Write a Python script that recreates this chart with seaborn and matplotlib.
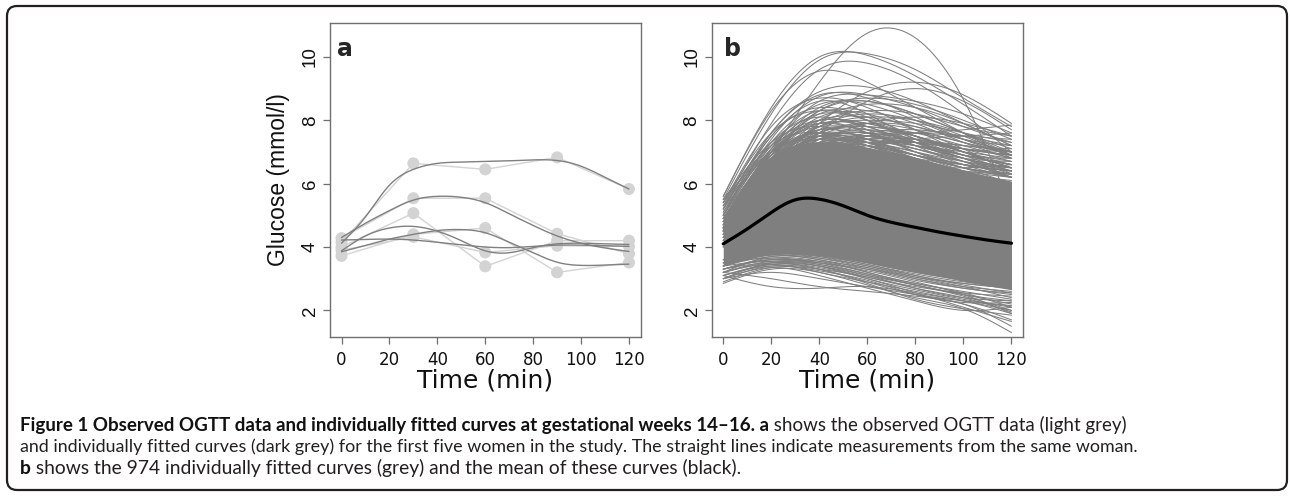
import numpy as np
import pandas as pd
import matplotlib
matplotlib.use("Agg")
import matplotlib.pyplot as plt
import matplotlib.patches as mpatches
import seaborn as sns

# ---------------- data ----------------
obs_times = [0, 30, 60, 90, 120]
obs_w1 = [4.15, 6.64, 6.45, 6.83, 5.83]
obs_w2 = [4.28, 5.54, 5.54, 4.42, 3.79]
obs_w3 = [4.00, 5.07, 3.39, 4.20, 4.20]
obs_w4 = [3.72, 4.40, 4.60, 3.20, 3.51]
obs_w5 = [3.90, 4.32, 3.83, 4.04, 4.02]

fit_times = [0, 10, 20, 30, 40, 50, 60, 70, 80, 90, 100, 110, 120]
fit_w1 = [4.12, 4.95, 5.95, 6.45, 6.64, 6.68, 6.70, 6.72, 6.75, 6.73, 6.55, 6.20, 5.83]
fit_w2 = [4.30, 4.75, 5.15, 5.48, 5.60, 5.57, 5.40, 5.05, 4.68, 4.35, 4.12, 3.97, 3.86]
fit_w3 = [3.88, 4.35, 4.60, 4.65, 4.50, 4.20, 3.88, 3.82, 3.98, 4.10, 4.12, 4.10, 4.08]
fit_w4 = [3.85, 4.05, 4.25, 4.40, 4.52, 4.55, 4.45, 4.15, 3.82, 3.52, 3.42, 3.43, 3.46]
fit_w5 = [4.22, 4.24, 4.25, 4.22, 4.15, 4.07, 4.00, 3.98, 4.02, 4.06, 4.06, 4.04, 4.02]

# panel b: mean curve
mean_curve = [4.10, 4.57, 5.09, 5.49, 5.51, 5.30, 5.00, 4.78, 4.62, 4.47, 4.34, 4.22, 4.12]
# panel b: dense core of the 974 curves (solid region)
core_low = [3.40, 3.62, 3.75, 3.78, 3.72, 3.62, 3.50, 3.36, 3.22, 3.08, 2.92, 2.78, 2.65]
core_high = [4.90, 6.05, 6.85, 7.22, 7.32, 7.28, 7.15, 7.00, 6.82, 6.62, 6.42, 6.25, 6.08]
# panel b: individually visible curves at the fringes (values at 0,20,...,120 min)
knot_times = [0, 20, 40, 60, 80, 100, 120]
upper_curves = [
    [4.8, 7.0, 9.2, 10.75, 10.6, 8.66, 5.2],
    [5.6, 8.4, 10.0, 10.05, 9.4, 8.5, 7.5],
    [5.5, 8.2, 9.9, 10.1, 9.6, 8.7, 7.8],
    [5.3, 7.9, 9.6, 9.8, 9.2, 8.2, 7.0],
    [5.6, 8.3, 9.55, 9.2, 8.4, 7.6, 6.8],
    [5.2, 7.6, 8.9, 9.05, 8.6, 7.9, 7.2],
    [4.6, 6.4, 7.9, 8.9, 9.2, 8.8, 7.9],
    [4.5, 6.2, 7.6, 8.6, 9.0, 8.6, 7.7],
    [5.0, 7.4, 8.75, 8.8, 8.4, 7.8, 7.3],
    [5.2, 7.6, 8.8, 8.7, 8.1, 7.4, 6.9],
    [4.9, 7.1, 8.6, 8.8, 8.6, 8.2, 7.6],
    [5.4, 7.8, 8.7, 8.4, 7.7, 7.0, 6.5],
    [4.7, 6.8, 8.3, 8.7, 8.5, 8.0, 7.4],
    [5.1, 7.3, 8.5, 8.5, 8.0, 7.4, 7.0],
    [4.9, 7.0, 8.4, 8.6, 8.2, 7.6, 6.9],
    [4.6, 6.6, 8.0, 8.5, 8.4, 7.9, 7.2],
    [5.3, 7.5, 8.6, 8.2, 7.4, 6.8, 6.5],
    [4.8, 6.9, 8.2, 8.3, 7.9, 7.3, 6.8],
    [4.5, 6.5, 7.9, 8.3, 8.2, 7.8, 7.5],
    [5.0, 7.2, 8.3, 8.0, 7.4, 6.9, 6.6],
    [4.7, 6.8, 8.1, 8.2, 7.7, 7.1, 6.3],
    [4.9, 7.0, 8.0, 7.8, 7.3, 6.8, 6.2],
    [4.4, 6.3, 7.7, 8.1, 8.0, 7.6, 7.1],
    [5.2, 7.3, 8.1, 7.7, 7.0, 6.5, 6.0],
    [4.6, 6.6, 7.8, 7.9, 7.5, 7.1, 6.7],
    [4.8, 6.8, 7.9, 7.6, 7.1, 6.7, 6.4],
    [4.5, 6.4, 7.6, 7.8, 7.6, 7.2, 6.8],
    [4.7, 6.7, 7.7, 7.4, 6.9, 6.4, 5.9],
    [4.3, 6.1, 7.4, 7.7, 7.5, 7.0, 6.5],
    [4.9, 6.9, 7.6, 7.3, 6.8, 6.3, 5.8],
    [4.6, 6.5, 7.5, 7.5, 7.2, 6.9, 6.6],
    [4.4, 6.2, 7.3, 7.4, 7.1, 6.7, 6.2],
    [5.0, 6.9, 7.5, 7.1, 6.6, 6.2, 5.9],
    [4.5, 6.3, 7.2, 7.3, 7.0, 6.6, 6.4],
    [4.8, 6.6, 7.4, 7.2, 6.9, 6.6, 6.3],
    [4.2, 5.7, 6.8, 7.4, 7.6, 7.7, 7.85],
    [4.0, 5.4, 6.5, 7.1, 7.4, 7.5, 7.6],
    [4.3, 5.9, 7.0, 7.5, 7.6, 7.5, 7.4],
    [5.4, 7.2, 7.6, 7.2, 6.7, 6.3, 6.1],
    [5.5, 7.0, 7.4, 7.0, 6.6, 6.5, 6.6],
    [4.6, 6.9, 7.9, 7.8, 7.2, 6.6, 6.2],
    [4.3, 6.4, 7.6, 7.9, 7.7, 7.3, 7.0],
    [4.8, 7.1, 8.2, 8.0, 7.5, 7.0, 6.7],
    [4.4, 6.5, 7.8, 8.2, 8.0, 7.5, 6.9],
    [4.7, 6.9, 8.0, 8.1, 7.8, 7.4, 7.2],
    [4.2, 6.0, 7.3, 7.9, 8.1, 7.9, 7.5],
    [4.5, 6.6, 7.7, 7.7, 7.3, 6.9, 6.8],
    [5.0, 7.1, 7.9, 7.6, 7.0, 6.6, 6.4],
    [4.6, 6.7, 7.8, 8.0, 7.9, 7.6, 7.3],
    [4.4, 6.3, 7.5, 7.9, 7.8, 7.4, 7.0],
    [4.9, 7.0, 7.8, 7.7, 7.4, 7.0, 6.6],
    [4.3, 6.2, 7.4, 7.6, 7.4, 7.1, 6.9],
    [4.7, 6.8, 7.7, 7.6, 7.2, 6.8, 6.5],
    [4.1, 5.9, 7.1, 7.6, 7.7, 7.5, 7.2],
    [4.5, 6.5, 7.6, 7.8, 7.5, 7.0, 6.5],
    [5.1, 7.2, 8.0, 7.9, 7.5, 7.1, 6.9],
    [4.6, 6.7, 7.5, 7.4, 7.1, 6.8, 6.7],
    [4.2, 6.1, 7.2, 7.5, 7.3, 6.9, 6.6],
    [4.8, 6.8, 7.6, 7.5, 7.3, 7.1, 7.0],
    [4.4, 6.4, 7.4, 7.5, 7.2, 6.8, 6.4],
    [4.0, 5.8, 7.0, 7.5, 7.6, 7.3, 6.9],
    [4.9, 6.8, 7.5, 7.3, 6.9, 6.5, 6.3],
    [4.5, 6.4, 7.3, 7.3, 7.0, 6.7, 6.5],
    [4.3, 6.0, 7.0, 7.3, 7.2, 7.0, 6.8],
    [4.7, 6.6, 7.4, 7.3, 6.9, 6.5, 6.2],
    [4.1, 5.8, 6.9, 7.3, 7.3, 7.1, 6.9],
    [5.2, 7.0, 7.6, 7.3, 6.8, 6.4, 6.2],
    [4.6, 6.5, 7.5, 7.6, 7.3, 6.9, 6.6],
    [4.2, 5.9, 7.0, 7.4, 7.4, 7.2, 7.1],
    [4.8, 6.6, 7.3, 7.1, 6.7, 6.4, 6.3],
    [5.3, 7.0, 7.5, 7.2, 6.8, 6.6, 6.5],
    [4.4, 6.2, 7.2, 7.4, 7.2, 6.8, 6.3],
    [4.0, 5.6, 6.7, 7.2, 7.3, 7.2, 7.0],
    [4.6, 6.4, 7.2, 7.2, 6.9, 6.6, 6.4],
    [4.3, 6.1, 7.1, 7.2, 6.9, 6.5, 6.2],
    [4.9, 6.7, 7.4, 7.2, 6.8, 6.4, 6.0],
    [5.5, 7.3, 7.8, 7.4, 6.9, 6.5, 6.3],
    [5.4, 7.6, 8.3, 8.0, 7.3, 6.7, 6.2],
    [5.0, 7.5, 8.4, 8.1, 7.5, 6.9, 6.4],
    [4.5, 6.9, 8.3, 8.6, 8.2, 7.6, 7.0],
]
lower_curves = [
    [3.1, 2.75, 2.70, 2.75, 2.55, 2.30, 1.90],
    [3.2, 3.00, 2.75, 2.60, 2.45, 2.20, 1.70],
    [2.85, 3.30, 3.20, 2.80, 2.40, 2.05, 1.30],
    [3.0, 3.40, 3.30, 2.90, 2.50, 2.20, 1.50],
    [3.1, 3.45, 3.35, 3.00, 2.55, 2.10, 1.65],
    [3.3, 3.50, 3.30, 2.85, 2.35, 2.05, 1.85],
    [3.2, 3.45, 3.20, 2.90, 2.60, 2.30, 2.00],
    [3.4, 3.55, 3.40, 3.00, 2.65, 2.35, 2.10],
    [3.0, 3.35, 3.10, 2.70, 2.30, 2.00, 2.10],
    [3.3, 3.60, 3.45, 3.10, 2.70, 2.40, 2.30],
    [3.5, 3.65, 3.50, 3.15, 2.80, 2.50, 2.20],
    [3.2, 3.50, 3.40, 3.05, 2.75, 2.55, 2.45],
    [3.4, 3.70, 3.60, 3.20, 2.85, 2.60, 2.35],
    [3.6, 3.75, 3.60, 3.30, 2.95, 2.70, 2.50],
    [3.3, 3.60, 3.50, 3.25, 2.90, 2.50, 1.90],
    [3.5, 3.80, 3.65, 3.35, 3.00, 2.75, 2.60],
    [3.1, 3.40, 3.25, 2.95, 2.50, 2.25, 2.25],
    [3.6, 3.85, 3.70, 3.40, 3.10, 2.85, 2.70],
    [3.2, 3.70, 3.65, 3.40, 3.05, 2.75, 2.40],
    [3.0, 3.50, 3.45, 3.15, 2.80, 2.45, 2.00],
    [3.4, 3.80, 3.75, 3.45, 3.15, 2.90, 2.75],
    [3.3, 3.65, 3.55, 3.20, 2.85, 2.55, 2.10],
    [2.9, 3.35, 3.30, 3.05, 2.70, 2.40, 1.95],
    [3.5, 3.85, 3.80, 3.50, 3.20, 2.95, 2.80],
    [3.2, 3.55, 3.50, 3.30, 3.00, 2.70, 2.55],
    [3.1, 3.45, 3.40, 3.10, 2.80, 2.50, 2.30],
    [3.4, 3.75, 3.70, 3.45, 3.10, 2.80, 2.55],
    [3.0, 3.20, 3.00, 2.75, 2.50, 2.30, 2.15],
    [3.6, 3.90, 3.80, 3.50, 3.20, 3.00, 2.90],
    [3.3, 3.60, 3.55, 3.35, 3.05, 2.85, 2.70],
]

x_ticks = [0, 20, 40, 60, 80, 100, 120]
y_ticks = [2, 4, 6, 8, 10]

# ---------------- helpers ----------------
def smooth(x, y, n=241):
    """natural cubic spline used only to render smooth curves"""
    x = np.asarray(x, float); y = np.asarray(y, float)
    k = len(x); h = np.diff(x)
    A = np.zeros((k, k)); b = np.zeros(k)
    A[0, 0] = A[-1, -1] = 1
    for i in range(1, k - 1):
        A[i, i - 1] = h[i - 1]; A[i, i] = 2 * (h[i - 1] + h[i]); A[i, i + 1] = h[i]
        b[i] = 3 * ((y[i + 1] - y[i]) / h[i] - (y[i] - y[i - 1]) / h[i - 1])
    c = np.linalg.solve(A, b)
    bb = (y[1:] - y[:-1]) / h - h * (2 * c[:-1] + c[1:]) / 3
    d = (c[1:] - c[:-1]) / (3 * h)
    xs = np.linspace(x[0], x[-1], n)
    idx = np.clip(np.searchsorted(x, xs, side="right") - 1, 0, k - 2)
    t = xs - x[idx]
    ys = y[idx] + bb[idx] * t + c[idx] * t ** 2 + d[idx] * t ** 3
    return xs, ys

def long_df(times, curves):
    rows = []
    for cid, vals in enumerate(curves):
        xs, ys = smooth(times, vals)
        rows.append(pd.DataFrame({"time": xs, "glucose": ys, "id": cid}))
    return pd.concat(rows, ignore_index=True)

# ---------------- figure ----------------
sns.set_theme(style="white")
plt.rcParams["font.family"] = ["Liberation Sans", "DejaVu Sans"]

W, H = 1290, 499
fig = plt.figure(figsize=(W / 100, H / 100), dpi=100)
fig.patch.set_facecolor("white")

def px_axes(l, r, t, b):
    return fig.add_axes([l / W, 1 - b / H, (r - l) / W, (b - t) / H])

axA = px_axes(330, 640.5, 23, 337)
axB = px_axes(711.7, 1023, 23, 337)

GREY = "#7f7f7f"
LIGHT = "#d3d3d3"

# panel a
obs_df = pd.DataFrame({
    "time": obs_times * 5,
    "glucose": obs_w1 + obs_w2 + obs_w3 + obs_w4 + obs_w5,
    "woman": sum([[i] * 5 for i in range(5)], []),
})
sns.lineplot(data=obs_df, x="time", y="glucose", units="woman", estimator=None,
             color=LIGHT, lw=1.0, ax=axA, sort=False)
sns.scatterplot(data=obs_df, x="time", y="glucose", color=LIGHT, s=75,
                edgecolor="none", ax=axA, zorder=3)
fitA = long_df(fit_times, [fit_w1, fit_w2, fit_w3, fit_w4, fit_w5])
sns.lineplot(data=fitA, x="time", y="glucose", units="id", estimator=None,
             color="#808080", lw=1.0, ax=axA, zorder=4)

# panel b
cx, lo = smooth(fit_times, core_low)
_, hi = smooth(fit_times, core_high)
axB.fill_between(cx, lo, hi, color=GREY, lw=0, zorder=1)
fitB = long_df(knot_times, upper_curves + lower_curves)
sns.lineplot(data=fitB, x="time", y="glucose", units="id", estimator=None,
             color=GREY, lw=0.75, ax=axB, zorder=2)
mx, my = smooth(fit_times, mean_curve)
sns.lineplot(x=mx, y=my, color="black", lw=2.3, ax=axB, zorder=5)

for ax in (axA, axB):
    ax.set_xlim(-4.8, 124.8)
    ax.set_ylim(1.16, 11.07)
    ax.set_xticks(x_ticks)
    ax.set_yticks(y_ticks)
    ax.set_xticklabels([str(v) for v in x_ticks], fontfamily="DejaVu Sans", fontsize=12)
    ax.set_yticklabels([str(v) for v in y_ticks], fontsize=13.5, rotation=90, va="center")
    for s in ax.spines.values():
        s.set_color("#6f6f6f"); s.set_linewidth(1.0)
    ax.tick_params(axis="both", which="major", direction="out", length=5, width=0.9,
                   color="#6f6f6f", labelcolor="#111111", bottom=True, left=True)
    ax.tick_params(axis="x", pad=5)
    ax.tick_params(axis="y", pad=3)
    ax.set_xlabel("Time (min)", fontfamily="DejaVu Sans", fontsize=18, color="#111111")
    ax.xaxis.set_label_coords(0.5, -0.1)
    ax.set_ylabel("")

axA.set_ylabel("Glucose (mmol/l)", fontsize=16.5, color="#111111")
axA.yaxis.set_label_coords(-0.128, 0.5)

axA.text(0.022, 0.955, "a", transform=axA.transAxes, fontfamily="DejaVu Sans",
         fontweight="bold", fontsize=17, va="top", ha="left")
axB.text(0.038, 0.955, "b", transform=axB.transAxes, fontfamily="DejaVu Sans",
         fontweight="bold", fontsize=17, va="top", ha="left")

# frame
frame = mpatches.FancyBboxPatch((0.07, 0.09), 12.80, 4.84,
                                boxstyle="round,pad=0,rounding_size=0.1",
                                transform=fig.dpi_scale_trans, fill=False,
                                edgecolor="#231f20", lw=1.6)
fig.patches.append(frame)

# caption
CAP_FONT = ["Lato", "DejaVu Sans"]
CAP_COL = "#231f20"
x0 = 20 / W
caption_lines = [
    [("Figure 1 Observed OGTT data and individually fitted curves at gestational weeks 14\u201316. a", True),
     (" shows the observed OGTT data (light grey)", False)],
    [("and individually fitted curves (dark grey) for the first five women in the study. "
      "The straight lines indicate measurements from the same woman.", False)],
    [("b", True), (" shows the 974 individually fitted curves (grey) and the mean of these curves (black).", False)],
]
line_y = [425, 447, 468]
line_end = [1128, 1133, 741]

fig.canvas.draw()
r = fig.canvas.get_renderer()

def draw_line(y, parts, size):
    x = x0
    objs = []
    for txt, bold in parts:
        t = fig.text(x, 1 - y / H, txt, fontfamily=CAP_FONT, fontsize=size,
                     fontweight="bold" if bold else "normal",
                     color="#111111" if bold else CAP_COL, va="center", ha="left")
        x = t.get_window_extent(r).x1 / W
        objs.append(t)
    return objs, x * W

for y, parts, end in zip(line_y, caption_lines, line_end):
    objs, xe = draw_line(y, parts, 10)
    for o in objs:
        o.remove()
    size = 10 * (end - 20) / (xe - 20)
    draw_line(y, parts, size)

fig.savefig("out.png", dpi=100, facecolor="white")
